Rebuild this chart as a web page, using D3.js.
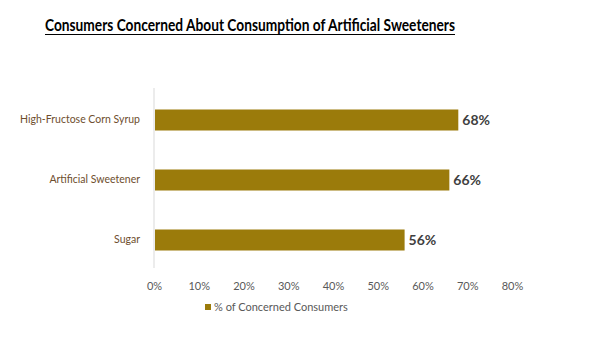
<!DOCTYPE html>
<html>
<head>
<meta charset="utf-8">
<script src="https://cdn.jsdelivr.net/npm/d3@7"></script>
<style>
    body { margin: 0; background: #fff; }
    svg { font-family: Lato, "Open Sans", sans-serif; }
</style>
</head>
<body>
<div id="chart"></div>
<script>
var categories = ["High-Fructose Corn Syrup", "Artificial Sweetener", "Sugar"];
var concerned = [68, 66, 56];
var tickValues = [0, 10, 20, 30, 40, 50, 60, 70, 80];
var seriesName = "% of Concerned Consumers";
var chartTitle = "Consumers Concerned About Consumption of Artificial Sweeteners";

function makeChart() {
    var width = 591,
        height = 337;
    var barColor = "#9b7b0b";

    var svg = d3
        .select("#chart")
        .append("svg")
        .attr("width", width)
        .attr("height", height);

    var x = d3.scaleLinear().domain([0, 80]).range([154, 512]);
    var y = d3
        .scaleBand()
        .domain(categories)
        .range([90, 270])
        .paddingInner(0.65)
        .paddingOuter(0.325);

    // title, underlined, fitted between 45 and 455
    svg.append("text")
        .attr("x", 250)
        .attr("y", 31)
        .attr("text-anchor", "middle")
        .attr("textLength", 410)
        .attr("lengthAdjust", "spacingAndGlyphs")
        .style("font-size", "17.5px")
        .style("font-weight", "bold")
        .style("fill", "#000")
        .text(chartTitle);
    svg.append("line")
        .attr("x1", 45)
        .attr("x2", 455)
        .attr("y1", 34.5)
        .attr("y2", 34.5)
        .attr("stroke", "#000")
        .attr("stroke-width", 1.2);

    // vertical axis line
    svg.append("line")
        .attr("x1", x(0))
        .attr("x2", x(0))
        .attr("y1", 88)
        .attr("y2", 268)
        .attr("stroke", "#d9d9d9")
        .attr("stroke-width", 1);

    var xAxis = svg
        .append("g")
        .attr("transform", "translate(0,279)")
        .call(
            d3
                .axisBottom(x)
                .tickValues(tickValues)
                .tickSize(0)
                .tickFormat((d) => d + "%")
        );
    xAxis.select(".domain").remove();
    xAxis.selectAll("text")
        .style("font-size", "11px")
        .style("font-family", "Lato, sans-serif")
        .style("fill", "#595959");

    var yAxis = svg
        .append("g")
        .attr("transform", "translate(" + (x(0) - 11) + ",0)")
        .call(d3.axisLeft(y).tickSize(0));
    yAxis.select(".domain").remove();
    yAxis.selectAll("text")
        .style("font-size", "10.5px")
        .style("font-family", "Lato, sans-serif")
        .style("fill", "#6e4e2e");

    var rows = categories.map((c, i) => ({ name: c, value: concerned[i] }));

    svg.selectAll(".bar")
        .data(rows)
        .enter()
        .append("rect")
        .attr("class", "bar")
        .attr("x", x(0) + 1)
        .attr("y", (d) => y(d.name))
        .attr("width", (d) => x(d.value) - x(0) - 1)
        .attr("height", y.bandwidth())
        .attr("fill", barColor);

    svg.selectAll(".value-label")
        .data(rows)
        .enter()
        .append("text")
        .attr("class", "value-label")
        .attr("x", (d) => x(d.value) + 4)
        .attr("y", (d) => y(d.name) + y.bandwidth() / 2)
        .attr("dy", "0.35em")
        .style("font-size", "14px")
        .style("font-weight", "bold")
        .style("fill", "#404040")
        .text((d) => d.value + "%");

    // legend
    var legend = svg.append("g").attr("transform", "translate(205,307)");
    legend
        .append("rect")
        .attr("x", 0)
        .attr("y", -3)
        .attr("width", 6)
        .attr("height", 6)
        .attr("fill", barColor);
    legend
        .append("text")
        .attr("x", 9)
        .attr("y", 0)
        .attr("dy", "0.35em")
        .style("font-size", "11px")
        .style("fill", "#595959")
        .text(seriesName);
}

makeChart();
</script>
</body>
</html>
